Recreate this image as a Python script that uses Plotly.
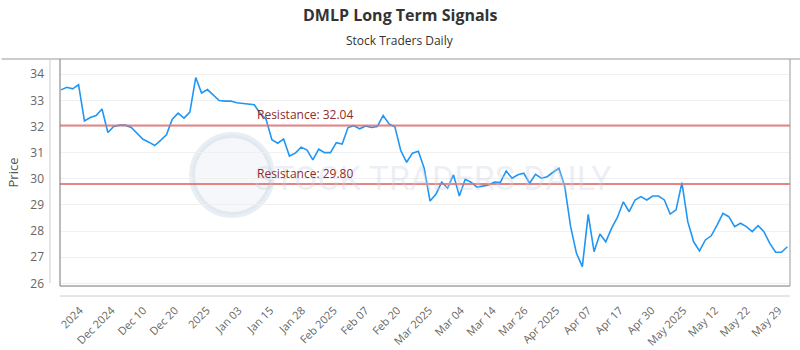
import plotly.graph_objects as go
import numpy as np

title_text = "DMLP Long Term Signals"
subtitle_text = "Stock Traders Daily"

prices = [
    33.40, 33.50, 33.44, 33.60, 32.21, 32.34, 32.42, 32.67, 31.77, 32.00,
    32.05, 32.05, 31.96, 31.74, 31.51, 31.40, 31.27, 31.47, 31.68, 32.28,
    32.51, 32.32, 32.55, 33.87, 33.28, 33.41, 33.20, 32.99, 32.97, 32.97,
    32.91, 32.89, 32.85, 32.83, 32.50, 32.28, 31.49, 31.36, 31.52, 30.87,
    30.98, 31.21, 31.10, 30.72, 31.13, 31.00, 31.00, 31.38, 31.33, 31.96,
    32.03, 31.91, 32.02, 31.96, 32.00, 32.42, 32.10, 31.99, 31.08, 30.63,
    30.98, 31.05, 30.40, 29.15, 29.41, 29.87, 29.64, 30.15, 29.34, 29.98,
    29.87, 29.68, 29.72, 29.76, 29.87, 29.86, 30.30, 30.02, 30.15, 30.21,
    29.83, 30.17, 30.02, 30.08, 30.25, 30.40, 29.70, 28.17, 27.15, 26.64,
    28.64, 27.21, 27.89, 27.59, 28.11, 28.53, 29.12, 28.74, 29.19, 29.32,
    29.19, 29.34, 29.34, 29.19, 28.65, 28.81, 29.85, 28.36, 27.59, 27.24,
    27.66, 27.82, 28.23, 28.68, 28.55, 28.17, 28.30, 28.17, 27.98, 28.21,
    27.98, 27.53, 27.19, 27.19, 27.40,
]

tick_labels = [
    "2024", "Dec 2024", "Dec 10", "Dec 20", "2025", "Jan 03", "Jan 15", "Jan 28",
    "Feb 2025", "Feb 07", "Feb 20", "Mar 2025", "Mar 04", "Mar 14", "Mar 26",
    "Apr 2025", "Apr 07", "Apr 17", "Apr 30", "May 2025", "May 12", "May 22", "May 29",
]

resistance_levels = [32.04, 29.80]
resistance_labels = ["Resistance: 32.04", "Resistance: 29.80"]

x_idx = list(range(len(prices)))
n = len(prices)
tickvals = list(np.linspace(3.2, 122.5, len(tick_labels)))

fig = go.Figure()

fig.add_trace(go.Scatter(
    x=x_idx, y=prices, mode="lines",
    line=dict(color="#2196f3", width=1.6),
    hoverinfo="skip", showlegend=False,
))

shapes = []
annotations = []

# watermark
shapes.append(dict(type="circle", xref="paper", yref="paper",
                   x0=(192 - 60) / 730, x1=(272 - 60) / 730,
                   y0=(286 - 215) / 227, y1=(286 - 135) / 227,
                   line=dict(color="rgba(190,205,220,0.35)", width=6),
                   fillcolor="rgba(200,212,228,0.18)", layer="below"))
annotations.append(dict(text="STOCK TRADERS DAILY", xref="paper", yref="paper",
                        x=(433 - 60) / 730, y=(286 - 178) / 227, showarrow=False,
                        font=dict(family="Roboto", size=34,
                                  color="rgba(200,210,225,0.35)")))

# resistance lines
for lvl, lab in zip(resistance_levels, resistance_labels):
    shapes.append(dict(type="line", xref="paper", yref="y", x0=0, x1=1, y0=lvl, y1=lvl,
                       line=dict(color="rgba(226,110,110,0.85)", width=2), layer="above"))
    annotations.append(dict(text=lab, xref="x", yref="y", x=33.2, y=lvl, xanchor="left",
                            yanchor="bottom", yshift=0, showarrow=False,
                            font=dict(family="Open Sans", size=12, color="#8e2b2b")))

# frame
frame_col = "#777"
shapes += [
    dict(type="line", xref="paper", yref="paper", x0=0, x1=0, y0=0, y1=1,
         line=dict(color=frame_col, width=1)),
    dict(type="line", xref="paper", yref="paper", x0=0, x1=1, y0=0, y1=0,
         line=dict(color=frame_col, width=1)),
    dict(type="line", xref="paper", yref="paper", x0=1, x1=1, y0=0, y1=1,
         line=dict(color="#999", width=1)),
    dict(type="line", xref="paper", yref="paper", x0=-0.08, x1=1.02, y0=1, y1=1,
         line=dict(color="#999", width=1)),
    dict(type="line", xref="paper", yref="paper", x0=-10 / 730, x1=-10 / 730,
         y0=(286 - 283) / 227, y1=1, line=dict(color="#ccc", width=1)),
    dict(type="line", xref="paper", yref="paper", x0=0, x1=1,
         y0=-10 / 227, y1=-10 / 227, line=dict(color="#ccc", width=1)),
]

# titles
annotations.append(dict(text="<b>" + title_text + "</b>", xref="paper", yref="paper",
                        x=(400 - 60) / 730, y=1 + (59 - 15) / 227, xanchor="center",
                        yanchor="middle", showarrow=False,
                        font=dict(family="Open Sans", size=16, color="#333")))
annotations.append(dict(text=subtitle_text, xref="paper", yref="paper",
                        x=(400 - 60) / 730, y=1 + (59 - 40) / 227, xanchor="center",
                        yanchor="middle", showarrow=False,
                        font=dict(family="Open Sans", size=12, color="#333")))

fig.update_layout(
    width=800, height=350,
    margin=dict(l=60, r=10, t=59, b=64),
    paper_bgcolor="white", plot_bgcolor="white",
    shapes=shapes, annotations=annotations,
    xaxis=dict(range=[-0.17, n - 1 + 0.45], tickvals=tickvals, ticktext=tick_labels,
               tickangle=-45, showgrid=False, zeroline=False, showline=False,
               ticks="", ticklabelstandoff=15, automargin=False,
               tickfont=dict(family="Open Sans", size=11, color="#666")),
    yaxis=dict(range=[25.9, 34.58], tickvals=[26, 27, 28, 29, 30, 31, 32, 33, 34],
               showgrid=True, gridcolor="#f0f0f0", gridwidth=1, zeroline=False,
               showline=False, ticks="", ticklabelstandoff=15, automargin=False,
               tickfont=dict(family="Open Sans", size=12, color="#666"),
               title=dict(text="Price", font=dict(family="Open Sans", size=13, color="#555"),
                          standoff=8)),
)

fig.write_html("out.html")
